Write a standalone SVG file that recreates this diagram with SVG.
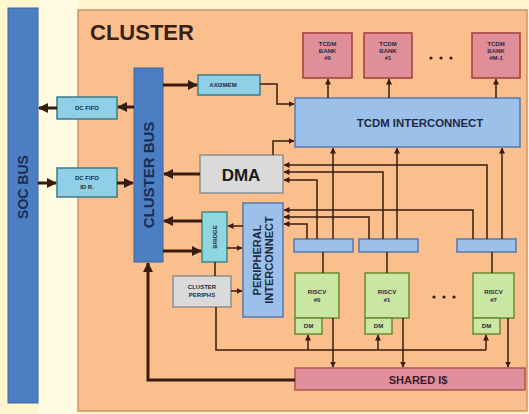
<svg xmlns="http://www.w3.org/2000/svg" width="529" height="414" viewBox="0 0 529 414">
<style>
text{font-family:"Liberation Sans",Arial,sans-serif;font-weight:bold;text-anchor:middle}
.t{font-size:6px;fill:#1c2a44}
.lb{fill:#8fd0e6;stroke:#3d7a86;stroke-width:1.5}
.ic{fill:#9cc0ea;stroke:#5579ad;stroke-width:1.5}
.bank{fill:#e08f98;stroke:#a23c3c;stroke-width:1.5}
.core{fill:#c9e6a2;stroke:#6b8b2f;stroke-width:1.5}
.grey{fill:#dadada;stroke:#8f8f8f;stroke-width:1.5}
.bus{fill:#4b7fc2;stroke:#3c66a0;stroke-width:1}
.thick{fill:none;stroke:#3a1c0e;stroke-width:3}
.thin{fill:none;stroke:#3a1c0e;stroke-width:1.5}
</style>
<defs>
<marker id="big" markerUnits="userSpaceOnUse" markerWidth="10" markerHeight="10" refX="9" refY="5" orient="auto"><path d="M0,0 L10,5 L0,10 z" fill="#3a1c0e"/></marker>
<marker id="sm" markerUnits="userSpaceOnUse" markerWidth="6" markerHeight="6" refX="5.5" refY="3" orient="auto"><path d="M0,0 L6,3 L0,6 z" fill="#3a1c0e"/></marker>
</defs>
<rect x="0" y="0" width="529" height="414" fill="#fef6cc"/>
<rect x="38" y="0" width="40" height="414" fill="#fffbe2"/>
<g id="cluster"><rect x="78" y="10" width="449" height="401" fill="#fbbf8e" stroke="#c99664" stroke-width="1.5"/>
<text x="142" y="40" style="font-size:22px;fill:#3a1f14">CLUSTER</text></g>
<g id="soc-bus"><rect class="bus" x="8" y="8" width="30" height="395"/>
<text transform="translate(28,187) rotate(-90)" style="font-size:14px;fill:#1a2d55">SOC BUS</text></g>
<g id="cluster-bus"><rect class="bus" x="134" y="68" width="29" height="194"/>
<text transform="translate(154,175) rotate(-90)" style="font-size:15px;fill:#1a2d55">CLUSTER BUS</text></g>
<g id="dc-fifo-1"><rect class="lb" x="57" y="97" width="60" height="22"/><text class="t" x="87" y="110">DC FIFO</text></g>
<g id="dc-fifo-2"><rect class="lb" x="57" y="168" width="60" height="29"/><text class="t" x="87" y="180">DC FIFO</text><text class="t" x="87" y="189">ID R.</text></g>
<g id="axi2mem"><rect class="lb" x="198" y="75" width="62" height="20"/><text class="t" x="223" y="87">AXI2MEM</text></g>
<g id="dma"><rect class="grey" x="200" y="155" width="83" height="38"/><text x="241" y="181" style="font-size:17px;fill:#1a1a1a">DMA</text></g>
<g id="bank-0"><rect class="bank" x="303" y="33" width="49" height="45"/><text class="t" x="327.5" y="46">TCDM</text><text class="t" x="327.5" y="53">BANK</text><text class="t" x="327.5" y="60">#0</text></g>
<g id="bank-1"><rect class="bank" x="364" y="33" width="48" height="45"/><text class="t" x="388" y="46">TCDM</text><text class="t" x="388" y="53">BANK</text><text class="t" x="388" y="60">#1</text></g>
<g id="bank-m1"><rect class="bank" x="472" y="33" width="48" height="45"/><text class="t" x="496" y="46">TCDM</text><text class="t" x="496" y="53">BANK</text><text class="t" x="496" y="60">#M-1</text></g>
<g id="bank-dots" fill="#3a1c0e"><circle cx="431" cy="58" r="1.6"/><circle cx="441" cy="58" r="1.6"/><circle cx="451" cy="58" r="1.6"/></g>
<g id="tcdm-interconnect"><rect class="ic" x="295" y="98" width="225" height="49"/><text x="420" y="127" style="font-size:11.4px;fill:#1c2a44">TCDM INTERCONNECT</text></g>
<g id="bridge"><rect x="202" y="212" width="25" height="50" fill="#8fd6e0" stroke="#3d8a86" stroke-width="1.5"/><text class="t" transform="translate(216.5,237) rotate(-90)">BRIDGE</text></g>
<g id="peripheral-interconnect"><rect class="ic" x="243" y="203" width="40" height="114"/><text transform="translate(261,260) rotate(-90)" style="font-size:11px;fill:#1c2a44">PERIPHERAL</text><text transform="translate(273,260) rotate(-90)" style="font-size:11px;fill:#1c2a44">INTERCONNECT</text></g>
<g id="cluster-periphs"><rect class="grey" x="173" y="276" width="58" height="31"/><text class="t" x="202" y="289">CLUSTER</text><text class="t" x="202" y="297">PERIPHS</text></g>
<g id="demux-0"><rect class="ic" x="294" y="239" width="59" height="13"/></g>
<g id="demux-1"><rect class="ic" x="359" y="239" width="59" height="13"/></g>
<g id="demux-7"><rect class="ic" x="457" y="239" width="59" height="13"/></g>
<g id="riscv-0"><rect class="core" x="295" y="273" width="44" height="45"/><text class="t" x="317" y="294">RISCV</text><text class="t" x="317" y="302">#0</text><rect class="core" x="295" y="318" width="27" height="16"/><text class="t" x="308.5" y="328">DM</text></g>
<g id="riscv-1"><rect class="core" x="365" y="273" width="44" height="45"/><text class="t" x="387" y="294">RISCV</text><text class="t" x="387" y="302">#1</text><rect class="core" x="365" y="318" width="27" height="16"/><text class="t" x="378.5" y="328">DM</text></g>
<g id="riscv-7"><rect class="core" x="473" y="273" width="41" height="45"/><text class="t" x="493.5" y="294">RISCV</text><text class="t" x="493.5" y="302">#7</text><rect class="core" x="473" y="318" width="27" height="16"/><text class="t" x="486.5" y="328">DM</text></g>
<g id="core-dots" fill="#3a1c0e"><circle cx="434" cy="297" r="1.6"/><circle cx="444" cy="297" r="1.6"/><circle cx="454" cy="297" r="1.6"/></g>
<g id="shared-icache"><rect x="295" y="368" width="230" height="22" fill="#e18f9c" stroke="#b2524f" stroke-width="1.5"/><text x="418" y="384" style="font-size:11px;fill:#3a1c2a">SHARED I$</text></g>
<g id="connectors">
<path class="thick" d="M134,107 L118,107" marker-end="url(#big)"/>
<path class="thick" d="M57,108 L39,108" marker-end="url(#big)"/>
<path class="thick" d="M38,183 L56,183" marker-end="url(#big)"/>
<path class="thick" d="M117,183 L133,183" marker-end="url(#big)"/>
<path class="thick" d="M163,85 L197,85" marker-end="url(#big)"/>
<path class="thick" d="M200,174 L164,174" marker-end="url(#big)"/>
<path class="thick" d="M202,221 L164,221" marker-end="url(#big)"/>
<path class="thick" d="M163,251 L201,251" marker-end="url(#big)"/>
<path class="thick" d="M295,380 L148,380 L148,263" marker-end="url(#big)"/>
<path class="thin" d="M260,84 L277,84 L277,104 L294,104" marker-end="url(#sm)"/>
<path class="thin" d="M273,155 L273,141 L294,141" marker-end="url(#sm)"/>
<path class="thin" d="M328,98 L328,79" marker-end="url(#sm)"/>
<path class="thin" d="M389,98 L389,79" marker-end="url(#sm)"/>
<path class="thin" d="M496,98 L496,79" marker-end="url(#sm)"/>
<path class="thin" d="M333,239 L333,148" marker-end="url(#sm)"/>
<path class="thin" d="M397,239 L397,148" marker-end="url(#sm)"/>
<path class="thin" d="M502,239 L502,148" marker-end="url(#sm)"/>
<path class="thin" d="M487,239 L487,165 L284,165" marker-end="url(#sm)"/>
<path class="thin" d="M383,239 L383,172 L284,172" marker-end="url(#sm)"/>
<path class="thin" d="M317,239 L317,180 L284,180" marker-end="url(#sm)"/>
<path class="thin" d="M473,239 L473,210 L284,210" marker-end="url(#sm)"/>
<path class="thin" d="M369,239 L369,217 L284,217" marker-end="url(#sm)"/>
<path class="thin" d="M307,239 L307,224 L284,224" marker-end="url(#sm)"/>
<path class="thin" d="M323,252 L323,273"/>
<path class="thin" d="M387,252 L387,273"/>
<path class="thin" d="M492,252 L492,273"/>
<path class="thin" d="M333,318 L333,367" marker-end="url(#sm)"/>
<path class="thin" d="M403,318 L403,367" marker-end="url(#sm)"/>
<path class="thin" d="M508,318 L508,367" marker-end="url(#sm)"/>
<path class="thin" d="M216,307 L216,350 L486,350"/>
<path class="thin" d="M308,350 L308,335" marker-end="url(#sm)"/>
<path class="thin" d="M378,350 L378,335" marker-end="url(#sm)"/>
<path class="thin" d="M486,350 L486,335" marker-end="url(#sm)"/>
<path class="thin" d="M243,226 L228,226" marker-end="url(#sm)"/>
<path class="thin" d="M227,248 L242,248" marker-end="url(#sm)"/>
<path class="thin" d="M215,262 L215,276"/>
<path class="thin" d="M231,291 L242,291" marker-end="url(#sm)"/>
</g>
</svg>
